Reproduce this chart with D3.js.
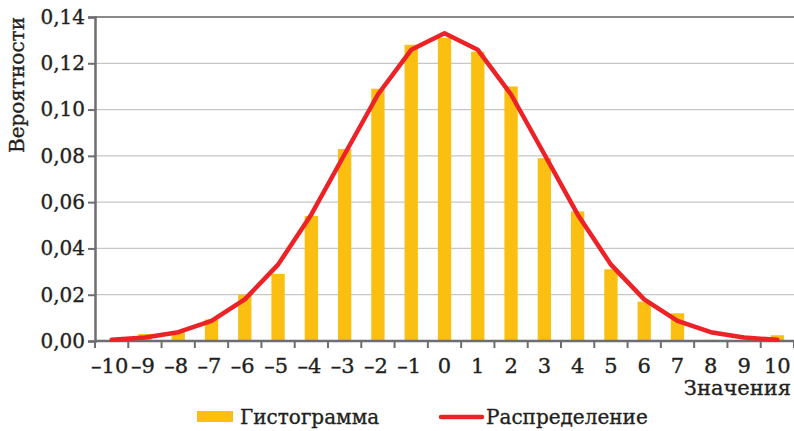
<!DOCTYPE html>
<html>
<head>
<meta charset="utf-8">
<script src="https://cdn.jsdelivr.net/npm/d3@7"></script>
<style>
  body { margin:0; background:#fff; }
</style>
</head>
<body>
<div id="chart"></div>
<script>
// values on the x axis
const categories = [-10,-9,-8,-7,-6,-5,-4,-3,-2,-1,0,1,2,3,4,5,6,7,8,9,10];
// histogram bars
const histValues = [0,0.003,0.004,0.0093,0.020,0.029,0.054,0.083,0.109,0.128,0.131,
  0.125,0.110,0.079,0.056,0.031,0.017,0.012,0.0005,0,0.0025];
// distribution line
const distValues = [0.0005,0.0015,0.0038,0.0087,0.018,0.033,0.0547,0.0807,0.1065,0.1258,0.133,
  0.1258,0.1065,0.0807,0.0547,0.033,0.018,0.0087,0.0038,0.0015,0.0005];
const yTicks = [0,0.02,0.04,0.06,0.08,0.10,0.12,0.14];
const legendLabels = ['Гистограмма','Распределение'];

const W = 794, H = 431;
const margin = {left:95, right:0, top:17, bottom:90};
const FONT = '"DejaVu Serif", "Liberation Serif", serif';
const INK = '#231f20';

const svg = d3.select('#chart').append('svg')
  .attr('width',W)
  .attr('height',H);

const x = d3.scaleBand()
  .domain(categories)
  .range([margin.left, W - margin.right])
  .paddingInner(0.6)
  .paddingOuter(0.3);

const y = d3.scaleLinear()
  .domain([0,0.14])
  .range([H - margin.bottom, margin.top]);

const fmt = d => d3.format('.2f')(d).replace('.',',');

// text a bit heavier, like the book face of the original
function styleText(sel, size) {
  sel.style('font-family',FONT).style('font-size',size + 'px').style('fill',INK)
    .style('stroke',INK).style('stroke-width','0.35px');
}

// grid
svg.append('g')
  .selectAll('line')
  .data(yTicks.slice(1))
  .join('line')
  .attr('x1',margin.left)
  .attr('x2',W)
  .attr('y1',d => y(d))
  .attr('y2',d => y(d))
  .attr('stroke',(d,i) => i === yTicks.length - 2 ? '#8a8a8a' : '#c6c6c6')
  .attr('stroke-width',(d,i) => i === yTicks.length - 2 ? 2 : 1.2);

// y axis
const yAxis = svg.append('g')
  .attr('transform','translate(' + margin.left + ',0)')
  .call(d3.axisLeft(y).tickValues(yTicks).tickFormat(fmt).tickSize(7).tickPadding(3));
yAxis.select('.domain').attr('stroke','#6d6e71').attr('stroke-width',2.5);
yAxis.selectAll('.tick line').attr('stroke','#6d6e71').attr('stroke-width',2);
styleText(yAxis.selectAll('.tick text'), 20);

// bars
svg.append('g')
  .selectAll('rect')
  .data(categories)
  .join('rect')
  .attr('x',d => x(d))
  .attr('width',x.bandwidth())
  .attr('y',(d,i) => y(histValues[i]))
  .attr('height',(d,i) => y(0) - y(histValues[i]))
  .attr('fill','#fbbf12');

// x axis with ticks on band boundaries
const xAxisG = svg.append('g');
xAxisG.append('line')
  .attr('x1',margin.left).attr('x2',W)
  .attr('y1',y(0)).attr('y2',y(0))
  .attr('stroke','#6d6e71').attr('stroke-width',2.5);
const step = x.step();
xAxisG.selectAll('line.tk')
  .data(d3.range(categories.length + 1))
  .join('line')
  .attr('class','tk')
  .attr('x1',i => margin.left + i*step)
  .attr('x2',i => margin.left + i*step)
  .attr('y1',y(0)).attr('y2',y(0) + 7)
  .attr('stroke','#6d6e71').attr('stroke-width',2);
const xLabels = xAxisG.selectAll('text')
  .data(categories)
  .join('text')
  .attr('x',d => x(d) + x.bandwidth()/2 + (d < 0 ? -2 : 0))
  .attr('y',y(0) + 32)
  .attr('text-anchor','middle')
  .text(d => d < 0 ? '\u2013' + Math.abs(d) : d);
styleText(xLabels, 21);

// distribution line
const line = d3.line()
  .x((d,i) => x(categories[i]) + x.bandwidth()/2)
  .y(d => y(d));
svg.append('path')
  .datum(distValues)
  .attr('d',line)
  .attr('fill','none')
  .attr('stroke','#ec2227')
  .attr('stroke-width',4.5)
  .attr('stroke-linejoin','round')
  .attr('stroke-linecap','round');

// axis titles
const yTitle = svg.append('text')
  .attr('transform','translate(24,85) rotate(-90)')
  .attr('text-anchor','middle')
  .text('Вероятности');
styleText(yTitle, 20);
const xTitle = svg.append('text')
  .attr('x',791)
  .attr('y',395)
  .attr('text-anchor','end')
  .text('Значения');
styleText(xTitle, 21);

// legend
const lg = svg.append('g');
lg.append('rect')
  .attr('x',197).attr('y',411).attr('width',36).attr('height',11)
  .attr('fill','#fbbf12');
styleText(lg.append('text').attr('x',240).attr('y',424).text(legendLabels[0]), 20);
lg.append('line')
  .attr('x1',441).attr('x2',482).attr('y1',417).attr('y2',417)
  .attr('stroke','#ec2227').attr('stroke-width',4.5).attr('stroke-linecap','round');
styleText(lg.append('text').attr('x',486).attr('y',424).text(legendLabels[1]), 20);
</script>
</body>
</html>
